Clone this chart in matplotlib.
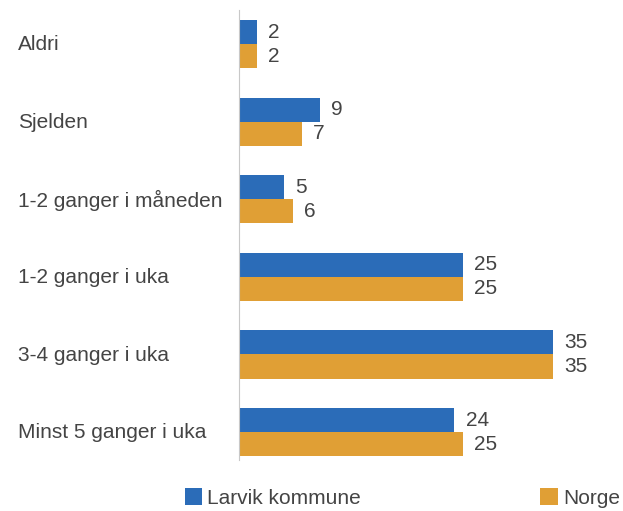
import numpy as np
import matplotlib.pyplot as plt
import matplotlib.transforms as mtransforms

plt.rcParams['font.family'] = ['Liberation Sans', 'DejaVu Sans']

categories = ['Aldri', 'Sjelden', '1-2 ganger i måneden', '1-2 ganger i uka',
              '3-4 ganger i uka', 'Minst 5 ganger i uka']
larvik = [2, 9, 5, 25, 35, 24]
norge = [2, 7, 6, 25, 35, 25]
series_names = ['Larvik kommune', 'Norge']

blue = '#2B6CB8'
orange = '#E09F35'
txt = '#444444'
fs = 15

fig = plt.figure(figsize=(6.23, 5.11), dpi=100)
ax = fig.add_axes([239 / 623, 51 / 511, 359 / 623, 450 / 511])

y = np.arange(len(categories))
h = 0.31
b1 = ax.barh(y - h / 2, larvik, height=h, color=blue, label=series_names[0])
b2 = ax.barh(y + h / 2, norge, height=h, color=orange, label=series_names[1])

for bars, vals in ((b1, larvik), (b2, norge)):
    for rect, v in zip(bars, vals):
        ax.annotate(str(v), (v, rect.get_y() + rect.get_height() / 2),
                    xytext=(8, 0), textcoords='offset points',
                    va='center', ha='left', fontsize=fs, color=txt)

ax.set_xlim(0, 40)
ax.set_ylim(5.36, -0.44)
ax.set_xticks([])
ax.set_yticks([])
for s in ('top', 'right', 'bottom'):
    ax.spines[s].set_visible(False)
ax.spines['left'].set_color('#C8C8C8')

# category labels left-aligned near the figure edge
trans = mtransforms.blended_transform_factory(fig.transFigure, ax.transData)
for i, c in enumerate(categories):
    ax.text(18 / 623, i + 0.01, c, transform=trans, ha='left', va='center',
            fontsize=fs, color=txt)

fig.legend(handles=[b1, b2], loc='center', bbox_to_anchor=(0.646, 0.025),
           ncol=2, frameon=False, fontsize=fs, labelcolor=txt,
           handlelength=0.85, handleheight=0.85, handletextpad=0.25,
           columnspacing=8.6)

fig.savefig('out.png', dpi=100, facecolor='white')
